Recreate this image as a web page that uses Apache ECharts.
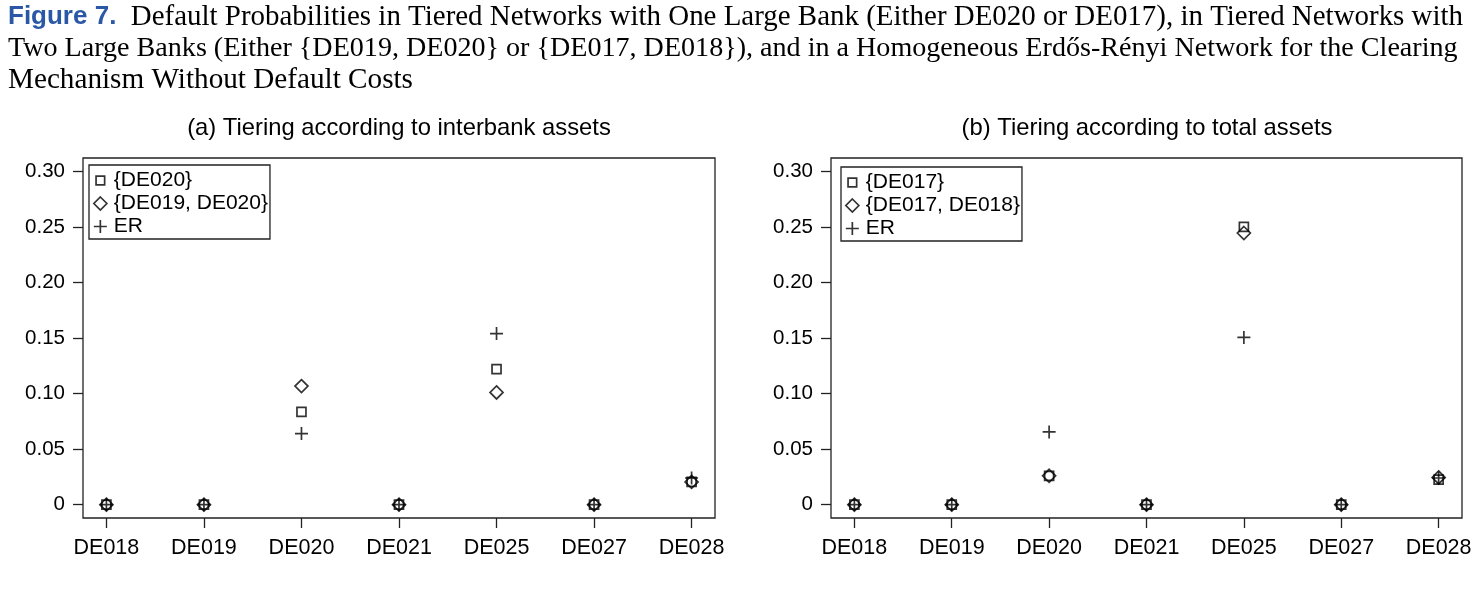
<!DOCTYPE html>
<html>
<head>
<meta charset="utf-8">
<script src="https://cdn.jsdelivr.net/npm/echarts@6/dist/echarts.min.js"></script>
<style>
html,body{margin:0;padding:0;background:#fff;}
#chart{width:1478px;height:593px;}
</style>
</head>
<body>
<div id="chart"></div>
<script>
// ---- data ----
const categories = ['DE018','DE019','DE020','DE021','DE025','DE027','DE028'];
const yTicks = [0, 0.05, 0.10, 0.15, 0.20, 0.25, 0.30];
const yTickLabels = ['0','0.05','0.10','0.15','0.20','0.25','0.30'];

const aSingleName = '{DE020}';
const aPairName = '{DE019, DE020}';
const bSingleName = '{DE017}';
const bPairName = '{DE017, DE018}';
const erName = 'ER';

const aSingle = [0, 0, 0.0835, 0, 0.122, 0, 0.0205];
const aPair   = [0, 0, 0.1067, 0, 0.101, 0, 0.0205];
const aER     = [0, 0, 0.064,  0, 0.154, 0, 0.024];

const bSingle = [0, 0, 0.026, 0, 0.250, 0, 0.0225];
const bPair   = [0, 0, 0.026, 0, 0.2445, 0, 0.0245];
const bER     = [0, 0, 0.0655, 0, 0.1505, 0, 0.024];

const panelTitleA = '(a) Tiering according to interbank assets';
const panelTitleB = '(b) Tiering according to total assets';
const figLabel = 'Figure 7.';
const captionLines = [
  'Default Probabilities in Tiered Networks with One Large Bank (Either DE020 or DE017), in Tiered Networks with',
  'Two Large Banks (Either {DE019, DE020} or {DE017, DE018}), and in a Homogeneous Erd\u0151s-R\u00e9nyi Network for the Clearing',
  'Mechanism Without Default Costs'
];

// ---- styling ----
const SANS = '"Liberation Sans", Arial, Helvetica, sans-serif';
const SERIF = '"Liberation Serif", "Times New Roman", serif';
const INK = '#000';
const LW = 1.7;
const plusPath = 'path://M43.5,0h13v43.5h43.5v13h-43.5v43.5h-13v-43.5h-43.5v-13h43.5z';
const squareLegendIcon = 'path://M0,0M100,100M17,17h66v66h-66z';
const hollow = {color: 'rgba(0,0,0,0)', borderColor: INK, borderWidth: LW};
const solid = {color: INK, borderWidth: 0};

const toPts = arr => categories.map((c, i) => [i, arr[i]]);

function xAxis(gi) {
  return {
    type: 'value', gridIndex: gi, min: -0.24, max: 6.24,
    axisLine: {show: false, onZero: false},
    splitLine: {show: false},
    axisTick: {show: true, length: 10, customValues: categories.map((c, i) => i),
               lineStyle: {color: '#222', width: 1.3}},
    axisLabel: {customValues: categories.map((c, i) => i), margin: 19,
                formatter: v => categories[Math.round(v)],
                fontFamily: SANS, fontSize: 21.5, color: INK}
  };
}
function yAxis(gi) {
  return {
    type: 'value', gridIndex: gi, min: -0.012, max: 0.312,
    axisLine: {show: false, onZero: false},
    splitLine: {show: false},
    axisTick: {show: true, length: 10, customValues: yTicks,
               lineStyle: {color: '#222', width: 1.3}},
    axisLabel: {customValues: yTicks, margin: 18,
                formatter: v => yTickLabels[yTicks.findIndex(t => Math.abs(t - v) < 1e-9)],
                fontFamily: SANS, fontSize: 20.5, color: INK}
  };
}
function ser(name, arr, gi, kind) {
  const s = {
    name, type: 'scatter', xAxisIndex: gi, yAxisIndex: gi,
    data: toPts(arr), silent: true, emphasis: {disabled: true}
  };
  if (kind === 'sq') { s.symbol = 'rect'; s.symbolSize = 9; s.itemStyle = hollow; }
  if (kind === 'di') { s.symbol = 'diamond'; s.symbolSize = 13; s.itemStyle = hollow; }
  if (kind === 'pl') { s.symbol = plusPath; s.symbolSize = 13; s.itemStyle = solid; }
  return s;
}
function legend(left, top, names) {
  return {
    orient: 'vertical', left, top,
    padding: [5, 2, 2, 4], itemGap: 2, itemWidth: 13, itemHeight: 13,
    borderColor: '#222', borderWidth: 1.3, borderRadius: 0,
    selectedMode: false,
    textStyle: {fontFamily: SANS, fontSize: 21, color: INK, padding: [0, 0, 0, 2]},
    data: [
      {name: names[0], icon: squareLegendIcon, itemStyle: hollow},
      {name: names[1], icon: 'diamond', itemStyle: hollow},
      {name: names[2], icon: plusPath, itemStyle: solid}
    ]
  };
}

function captionLine(i, y, size, withLabel) {
  return {type: 'text', x: 8, y, silent: true,
    style: {
      text: (withLabel ? '{b|' + figLabel + '}  ' : '') + captionLines[i],
      align: 'left', verticalAlign: 'middle', textAlign: 'left', textVerticalAlign: 'middle',
      fontFamily: SERIF, fontSize: size, fill: INK,
      rich: {b: {fontFamily: SANS, fontWeight: 'bold', fontSize: 26, fill: '#2b58a6', color: '#2b58a6'}}
    }};
}

const chart = echarts.init(document.getElementById('chart'), null, {renderer: 'canvas'});
chart.setOption({
  animation: false,
  backgroundColor: '#fff',
  grid: [
    {left: 83, top: 158, width: 632, height: 360, show: true, borderColor: '#222', borderWidth: 1.3, containLabel: false},
    {left: 831, top: 158, width: 631, height: 360, show: true, borderColor: '#222', borderWidth: 1.3, containLabel: false}
  ],
  xAxis: [xAxis(0), xAxis(1)],
  yAxis: [yAxis(0), yAxis(1)],
  legend: [
    legend(89, 165, [aSingleName, aPairName, erName]),
    legend(841, 167, [bSingleName, bPairName, erName])
  ],
  series: [
    ser(aSingleName, aSingle, 0, 'sq'),
    ser(aPairName, aPair, 0, 'di'),
    ser(erName, aER, 0, 'pl'),
    ser(bSingleName, bSingle, 1, 'sq'),
    ser(bPairName, bPair, 1, 'di'),
    ser(erName, bER, 1, 'pl')
  ],
  graphic: [
    {type: 'text', x: 399, y: 128, silent: true,
     style: {text: panelTitleA, fontFamily: SANS, fontSize: 23.8, fill: INK,
             align: 'center', verticalAlign: 'middle', textAlign: 'center', textVerticalAlign: 'middle'}},
    {type: 'text', x: 1147, y: 128, silent: true,
     style: {text: panelTitleB, fontFamily: SANS, fontSize: 23.8, fill: INK,
             align: 'center', verticalAlign: 'middle', textAlign: 'center', textVerticalAlign: 'middle'}},
    captionLine(0, 17, 28.95, true),
    captionLine(1, 48.5, 28.1, false),
    captionLine(2, 80, 29.2, false)
  ]
});
</script>
</body>
</html>
